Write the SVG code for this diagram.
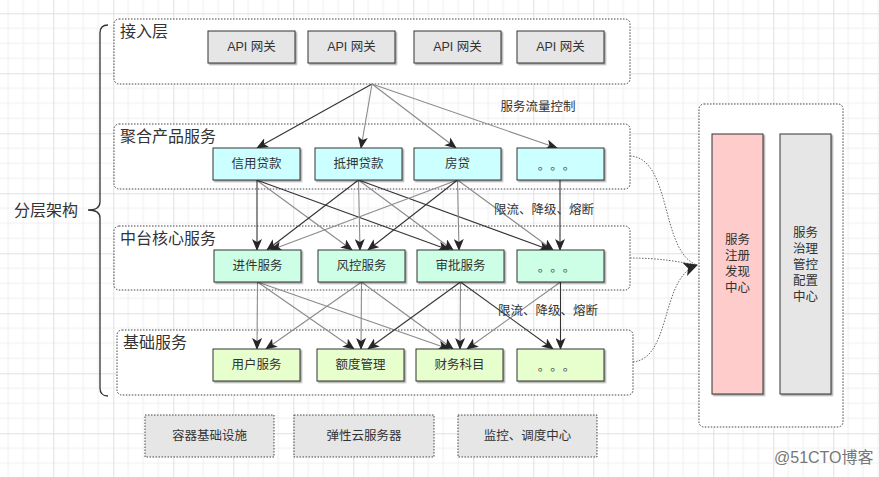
<svg xmlns="http://www.w3.org/2000/svg" width="879" height="477" viewBox="0 0 879 477">
<defs>
<pattern id="grid" x="53.3" y="13.3" width="60" height="60" patternUnits="userSpaceOnUse">
<path d="M15,0V60M30,0V60M45,0V60M0,15H60M0,30H60M0,45H60" stroke="#efefef" stroke-width="1" fill="none"/>
<path d="M0.5,0V60M0,0.5H60" stroke="#e0e0e0" stroke-width="1" fill="none"/>
</pattern>
<filter id="sh" x="-10%" y="-10%" width="130%" height="140%">
<feDropShadow dx="1.5" dy="1.5" stdDeviation="0.4" flood-color="#000" flood-opacity="0.35"/>
</filter>
<marker id="ar" viewBox="0 0 12 10" refX="11" refY="5" markerWidth="12" markerHeight="10" markerUnits="userSpaceOnUse" orient="auto">
<path d="M0,0 L12,5 L0,10 L3,5 z" fill="#262626"/>
</marker>
<marker id="arb" viewBox="0 0 14 14" refX="13" refY="7" markerWidth="14" markerHeight="14" markerUnits="userSpaceOnUse" orient="auto">
<path d="M0,0 L14,7 L0,14 L3.5,7 z" fill="#262626"/>
</marker>
</defs>
<style>
text{font-family:"Liberation Sans","Noto Sans CJK SC",sans-serif;fill:#333}
.cont{fill:#fff;stroke:#444;stroke-width:1;stroke-dasharray:1.5 1.5}
.title{font-size:16px}
.lbl{font-size:12.5px;text-anchor:middle;dominant-baseline:central}
.node{stroke:#333;stroke-width:1;filter:url(#sh)}
.api{fill:#e6e6e6}
.prod{fill:#ccffff}
.core{fill:#ccffe6}
.base{fill:#e6ffcc}
.ntx{font-size:12.5px;text-anchor:middle;dominant-baseline:central}
.dots{font-family:"Noto Sans CJK SC",sans-serif;font-size:12.5px;text-anchor:middle;dominant-baseline:central;fill:#555}
.d{stroke:#333;stroke-width:1.1;fill:none;marker-end:url(#ar)}
.g{stroke:#8a8a8a;stroke-width:1.1;fill:none;marker-end:url(#ar)}
.dot{stroke:#666;stroke-width:1;stroke-dasharray:1.5 1.5;fill:none}
.infra{fill:#e6e6e6;stroke:#444;stroke-width:1;stroke-dasharray:1.5 1.5}
</style>
<rect width="879" height="477" fill="#fff"/>
<rect width="879" height="477" fill="url(#grid)"/>

<g id="brace">
<path d="M108,25 Q100,25 100,33 L100,202 Q100,210 88,210 Q100,210 100,218 L100,388 Q100,396 108,396" fill="none" stroke="#333" stroke-width="1.3"/>
<text x="14" y="216" class="title">分层架构</text>
</g>

<g id="layer-access">
<rect class="cont" x="114" y="19" width="516" height="65" rx="5"/>
<text x="120" y="37" class="title">接入层</text>
</g>
<g id="layer-product">
<rect class="cont" x="114" y="124" width="516" height="65" rx="5"/>
<text x="120" y="142" class="title">聚合产品服务</text>
</g>
<g id="layer-core">
<rect class="cont" x="114" y="226" width="516" height="64" rx="5"/>
<text x="120" y="244" class="title">中台核心服务</text>
</g>
<g id="layer-base">
<rect class="cont" x="117" y="330" width="516" height="65" rx="5"/>
<text x="123" y="348" class="title">基础服务</text>
</g>

<g id="right-panel">
<rect class="cont" x="699" y="104" width="144" height="323" rx="5"/>
</g>

<g id="connectors">
<path class="d" d="M372,84 L257,148"/>
<path class="g" d="M372,84 L361,148"/>
<path class="g" d="M372,84 L456,148"/>
<path class="g" d="M372,84 L557,148"/>

<path class="d" d="M257,180 L257,250"/>
<path class="g" d="M256.5,180 L352,250"/>
<path class="d" d="M256.5,180 L449,250"/>
<path class="d" d="M358.5,180 L267,250"/>
<path class="g" d="M358.5,180 L360,250"/>
<path class="g" d="M358.5,180 L453,250"/>
<path class="d" d="M358.5,180 L550,250"/>
<path class="g" d="M457.5,180 L271,250"/>
<path class="d" d="M457.5,180 L368,250"/>
<path class="g" d="M457.5,180 L459,250"/>
<path class="g" d="M457.5,180 L553,250"/>
<path class="d" d="M560,180 L560,250"/>

<path class="g" d="M257.5,282 L257,349"/>
<path class="g" d="M257.5,282 L354,349"/>
<path class="g" d="M257.5,282 L449,349"/>
<path class="g" d="M361.5,282 L266,349"/>
<path class="g" d="M361.5,282 L361,349"/>
<path class="g" d="M361.5,282 L453,349"/>
<path class="d" d="M460.5,282 L368,349"/>
<path class="g" d="M460.5,282 L460,349"/>
<path class="d" d="M460.5,282 L553,349"/>
<path class="g" d="M560.5,282 L467,349"/>
<path class="d" d="M560.5,282 L560.5,349"/>

<path class="dot" d="M630,156 C672,158 660,252 697,265"/>
<path class="dot" d="M630,258 C660,258 680,262 697,265"/>
<path class="dot" d="M633,362 C672,358 660,278 697,265" marker-end="url(#arb)"/>
</g>

<g id="label-flow">
<text x="538" y="107" class="lbl">服务流量控制</text>
</g>
<g id="label-limit1">
<text x="544" y="210" class="lbl">限流、降级、熔断</text>
</g>
<g id="label-limit2">
<text x="548" y="311" class="lbl">限流、降级、熔断</text>
</g>

<g id="api1"><rect class="node api" x="208" y="31" width="87" height="32"/><text class="ntx" x="251.5" y="47">API 网关</text></g>
<g id="api2"><rect class="node api" x="308" y="31" width="87" height="32"/><text class="ntx" x="351.5" y="47">API 网关</text></g>
<g id="api3"><rect class="node api" x="414" y="31" width="87" height="32"/><text class="ntx" x="457.5" y="47">API 网关</text></g>
<g id="api4"><rect class="node api" x="517" y="31" width="87" height="32"/><text class="ntx" x="560.5" y="47">API 网关</text></g>

<g id="credit"><rect class="node prod" x="213" y="148" width="87" height="32"/><text class="ntx" x="256.5" y="164">信用贷款</text></g>
<g id="mortgage"><rect class="node prod" x="315" y="148" width="87" height="32"/><text class="ntx" x="358.5" y="164">抵押贷款</text></g>
<g id="house"><rect class="node prod" x="414" y="148" width="87" height="32"/><text class="ntx" x="457.5" y="164">房贷</text></g>
<g id="prod-more"><rect class="node prod" x="517" y="148" width="87" height="32"/><text class="dots" x="544 556.5 569" y="164">。。。</text></g>

<g id="intake"><rect class="node core" x="214" y="250" width="87" height="32"/><text class="ntx" x="257.5" y="266">进件服务</text></g>
<g id="risk"><rect class="node core" x="318" y="250" width="87" height="32"/><text class="ntx" x="361.5" y="266">风控服务</text></g>
<g id="approve"><rect class="node core" x="417" y="250" width="87" height="32"/><text class="ntx" x="460.5" y="266">审批服务</text></g>
<g id="core-more"><rect class="node core" x="517" y="250" width="87" height="32"/><text class="dots" x="544 556.5 569" y="266">。。。</text></g>

<g id="user"><rect class="node base" x="213" y="349" width="87" height="32"/><text class="ntx" x="256.5" y="365">用户服务</text></g>
<g id="quota"><rect class="node base" x="317" y="349" width="87" height="32"/><text class="ntx" x="360.5" y="365">额度管理</text></g>
<g id="finance"><rect class="node base" x="416" y="349" width="87" height="32"/><text class="ntx" x="459.5" y="365">财务科目</text></g>
<g id="base-more"><rect class="node base" x="517" y="349" width="87" height="32"/><text class="dots" x="544 556.5 569" y="365">。。。</text></g>

<g id="registry"><rect class="node" fill="#ffcccc" x="712" y="134" width="51" height="260"/>
<text class="ntx" x="737.5" y="240">服务</text><text class="ntx" x="737.5" y="256">注册</text><text class="ntx" x="737.5" y="272">发现</text><text class="ntx" x="737.5" y="288">中心</text></g>
<g id="governance"><rect class="node" fill="#e6e6e6" x="780" y="134" width="51" height="260"/>
<text class="ntx" x="805.5" y="233">服务</text><text class="ntx" x="805.5" y="249">治理</text><text class="ntx" x="805.5" y="265">管控</text><text class="ntx" x="805.5" y="281">配置</text><text class="ntx" x="805.5" y="297">中心</text></g>

<g id="container-infra"><rect class="infra" x="145" y="415" width="129" height="42"/><text class="ntx" x="209.5" y="436">容器基础设施</text></g>
<g id="cloud-server"><rect class="infra" x="294" y="415" width="140" height="42"/><text class="ntx" x="364" y="436">弹性云服务器</text></g>
<g id="monitor"><rect class="infra" x="458" y="415" width="139" height="42"/><text class="ntx" x="527.5" y="436">监控、调度中心</text></g>

<text x="774" y="463" font-size="16" style="fill:#777">@51CTO博客</text>
</svg>
